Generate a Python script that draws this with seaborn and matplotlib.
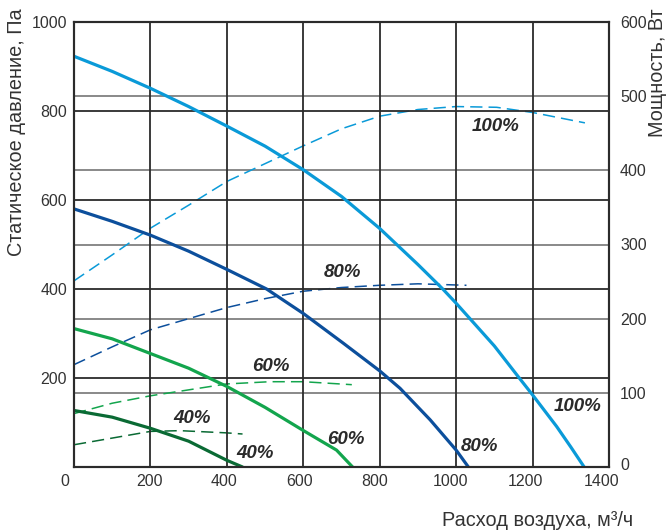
import matplotlib
matplotlib.use("Agg")
from matplotlib import pyplot as plt
import matplotlib.transforms as mtransforms
import seaborn as sns
import pandas as pd

# pressure curves (Pa) vs air flow (m3/h)
flow_100 = [0, 100, 200, 300, 400, 500, 600, 700, 800, 900, 965, 1000, 1100, 1167, 1200, 1263, 1300, 1335]
pres_100 = [923, 889, 851, 810, 766, 721, 668, 608, 536, 455, 400, 368, 272, 198, 162, 91, 45, 0]
flow_80 = [0, 100, 200, 300, 400, 504, 600, 705, 800, 853, 932, 1000, 1032]
pres_80 = [580, 552, 521, 485, 444, 400, 345, 278, 216, 177, 106, 38, 0]
flow_60 = [0, 100, 200, 300, 400, 500, 600, 687, 729]
pres_60 = [311, 288, 255, 222, 181, 134, 82, 38, 0]
flow_40 = [0, 100, 200, 300, 400, 441]
pres_40 = [127, 112, 87, 58, 15, 0]

# power curves (W) vs air flow
pflow_100 = [0, 100, 200, 300, 400, 600, 700, 800, 900, 1000, 1106, 1200, 1337]
power_100 = [251, 286, 322, 353, 385, 433, 456, 473, 482, 486, 485, 478, 464]
pflow_80 = [0, 100, 200, 300, 400, 500, 600, 700, 800, 900, 1027]
power_80 = [138, 162, 185, 200, 215, 227, 237, 242, 245, 247, 245]
pflow_60 = [0, 100, 200, 400, 513, 600, 727]
power_60 = [72, 86, 96, 112, 115, 115, 111]
pflow_40 = [0, 100, 200, 277, 400, 441]
power_40 = [30, 39, 48, 49, 46, 44.5]

colors = {"100%": "#0a9ad8", "80%": "#0c4f9c", "60%": "#13a54d", "40%": "#0a6a34"}

# labels: (text, x, y in Pa)
labels = [("100%", 1102, 766), ("80%", 702, 438), ("60%", 516, 225), ("40%", 309, 110),
          ("100%", 1319, 137), ("80%", 1060, 45), ("60%", 712, 61), ("40%", 474, 31)]

x_ticks = [0, 200, 400, 600, 800, 1000, 1200, 1400]
p_ticks = [200, 400, 600, 800, 1000]
w_ticks = [0, 100, 200, 300, 400, 500, 600]

sns.set_style("white")
plt.rcParams['font.family'] = ['Liberation Sans', 'DejaVu Sans']

fig = plt.figure(figsize=(6.67, 5.31), dpi=100)
ax = fig.add_axes([74/667, 1 - 467/531, 535/667, 445/531])
ax2 = ax.twinx()
ax.set_zorder(2)
ax.patch.set_visible(False)
ax2.set_zorder(1)

pressure = [(flow_100, pres_100, "100%"), (flow_80, pres_80, "80%"),
            (flow_60, pres_60, "60%"), (flow_40, pres_40, "40%")]
power = [(pflow_100, power_100, "100%"), (pflow_80, power_80, "80%"),
         (pflow_60, power_60, "60%"), (pflow_40, power_40, "40%")]

for x, y, name in pressure:
    df = pd.DataFrame({"flow": x, "value": y})
    sns.lineplot(data=df, x="flow", y="value", ax=ax, color=colors[name],
                 linewidth=2.3, estimator=None)
    ax.lines[-1].set_solid_joinstyle("round")

for x, y, name in power:
    df = pd.DataFrame({"flow": x, "value": y})
    sns.lineplot(data=df, x="flow", y="value", ax=ax2, color=colors[name],
                 linewidth=1.1, estimator=None)
    ax2.lines[-1].set_dashes([8, 4])

ax.set_xlim(0, 1400)
ax.set_ylim(0, 1000)
ax2.set_ylim(0, 600)
ax.set_xticks(x_ticks)
ax.set_yticks(p_ticks)
ax2.set_yticks(w_ticks)

ax.grid(True, color="#2b2b2b", linewidth=1.3)
ax2.grid(True, axis="y", color="#6a6a6a", linewidth=1.1)
ax2.grid(False, axis="x")

for a in (ax, ax2):
    for s in a.spines.values():
        s.set_color("#2b2b2b")
        s.set_linewidth(1.5)
    a.tick_params(length=0, labelsize=11.5, labelcolor="#333333")
ax.tick_params(axis="y", pad=5)
ax.tick_params(axis="x", pad=5)
ax2.tick_params(axis="y", pad=8)

for text, x, y in labels:
    ax.text(x, y, text, ha="center", va="center", fontsize=13.5,
            fontweight="bold", fontstyle="italic", color="#2a2a2a")

ax.set_xlabel("Расход воздуха, м³/ч", fontsize=14.3, color="#333333", loc="right")
ax.xaxis.set_label_coords(1.045, -0.099)
ax.set_ylabel("Статическое давление, Па", fontsize=14.3, color="#333333", loc="top")
ax.yaxis.set_label_coords(-0.09, 1.03)
ax2.set_ylabel("Мощность, Вт", fontsize=14.3, color="#333333", loc="top")
ax2.yaxis.set_label_coords(1.073, 1.03)

# x tick labels sit slightly left of their grid lines in the original
shifts = [-5, -1, -3, -4, -5, -6, -7, -7]
ticks = ax.xaxis.get_major_ticks()
for i, (tick, dx) in enumerate(zip(ticks, shifts)):
    lbl = tick.label1
    if i == 0:
        lbl.set_horizontalalignment("right")
    lbl.set_transform(lbl.get_transform() + mtransforms.ScaledTranslation(dx/100, 0, fig.dpi_scale_trans))

lbl0 = ax2.yaxis.get_major_ticks()[0].label2
lbl0.set_transform(lbl0.get_transform() + mtransforms.ScaledTranslation(0, 3/100, fig.dpi_scale_trans))

plt.savefig("out.png", dpi=100)
plt.close("all")
